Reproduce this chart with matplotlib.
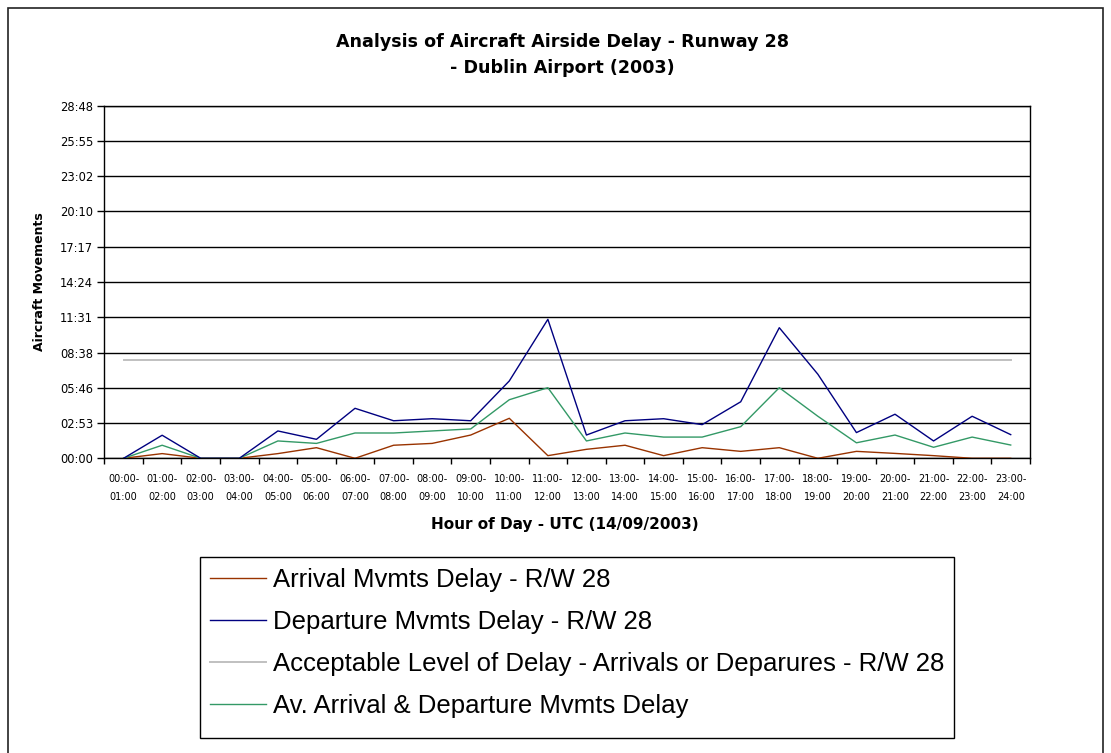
import matplotlib
matplotlib.use("Agg")
import matplotlib.pyplot as plt
from matplotlib.ticker import FixedLocator, FuncFormatter
from matplotlib.lines import Line2D
import matplotlib.patches as mpatches
import numpy as np

# ---------------- data (delays in seconds) ----------------
hours = ["00:00-\n01:00", "01:00-\n02:00", "02:00-\n03:00", "03:00-\n04:00",
         "04:00-\n05:00", "05:00-\n06:00", "06:00-\n07:00", "07:00-\n08:00",
         "08:00-\n09:00", "09:00-\n10:00", "10:00-\n11:00", "11:00-\n12:00",
         "12:00-\n13:00", "13:00-\n14:00", "14:00-\n15:00", "15:00-\n16:00",
         "16:00-\n17:00", "17:00-\n18:00", "18:00-\n19:00", "19:00-\n20:00",
         "20:00-\n21:00", "21:00-\n22:00", "22:00-\n23:00", "23:00-\n24:00"]

arrival = [0, 23, 0, 0, 23, 52, 0, 64, 73, 114, 196, 13,
           44, 64, 13, 52, 34, 52, 0, 34, 24, 13, 0, 0]
departure = [0, 113, 0, 0, 134, 93, 245, 184, 194, 184, 379, 681,
             114, 184, 194, 165, 277, 640, 412, 126, 216, 85, 206, 116]
acceptable = [480] * 24
average = [0, 64, 0, 0, 85, 73, 124, 124, 134, 144, 287, 346,
           85, 124, 104, 104, 155, 346, 206, 76, 114, 54, 104, 65]

series_labels = ["Arrival Mvmts Delay - R/W 28",
                 "Departure Mvmts Delay - R/W 28",
                 "Acceptable Level of Delay - Arrivals or Deparures - R/W 28",
                 "Av. Arrival & Departure Mvmts Delay"]

y_max = 1728.0
y_step = 172.8

# ---------------- figure ----------------
W, H = 1111, 753
fig = plt.figure(figsize=(W / 100, H / 100), dpi=100)
fig.patch.set_facecolor("white")

def fx(px):
    return px / W

def fy(py):
    return 1 - py / H

# outer chart frame
frame = mpatches.Rectangle((fx(8), fy(1100)), fx(1103) - fx(8), fy(8) - fy(1100),
                           transform=fig.transFigure, fill=False,
                           edgecolor="#222222", linewidth=1.2)
fig.patches.append(frame)

ax = fig.add_axes([fx(104.3), fy(458.3), fx(1030) - fx(104.3), fy(105.7) - fy(458.3)])

x = np.arange(len(hours))
colors = {"arr": "#993300", "dep": "#000080", "acc": "#C0C0C0", "avg": "#339966"}

ax.plot(x, acceptable, color=colors["acc"], lw=1.4, zorder=3)
ax.plot(x, arrival, color=colors["arr"], lw=1.0, zorder=4)
ax.plot(x, departure, color=colors["dep"], lw=1.0, zorder=5)
ax.plot(x, average, color=colors["avg"], lw=1.0, zorder=4)

ax.set_xlim(-0.5, len(hours) - 0.5)
ax.set_ylim(0, y_max)

yt = np.arange(0, y_max + 1, y_step)
ax.yaxis.set_major_locator(FixedLocator(yt))

def mmss(v, pos=None):
    s = int(round(v))
    return f"{s // 60:02d}:{s % 60:02d}"

ax.yaxis.set_major_formatter(FuncFormatter(mmss))
ax.grid(axis="y", color="black", lw=1.0, zorder=1)
ax.set_axisbelow(True)

# x ticks at category boundaries, labels at centers
ax.set_xticks(np.arange(-0.5, len(hours), 1.0))
ax.set_xticklabels([])
ax.set_xticks(x, minor=True)
ax.set_xticklabels(hours, minor=True, fontsize=7, linespacing=2.1,
                   family="DejaVu Sans")
ax.tick_params(axis="x", which="minor", length=0, pad=11)
ax.tick_params(axis="x", which="major", length=4, width=1, direction="out")
ax.tick_params(axis="y", length=5, width=1, direction="out", labelsize=8.3, pad=3)

for sp in ax.spines.values():
    sp.set_color("black")
    sp.set_linewidth(1.0)

# title
fig.text(fx(562), fy(55), "Analysis of Aircraft Airside Delay - Runway 28\n- Dublin Airport (2003)",
         ha="center", va="center", fontsize=12.6, fontweight="bold",
         family="DejaVu Sans", linespacing=1.62)

# axis labels
fig.text(fx(40), fy(281.5), "Aircraft Movements", rotation=90, ha="center", va="center",
         fontsize=9, fontweight="heavy", family="DejaVu Sans")
fig.text(fx(565), fy(525), "Hour of Day - UTC (14/09/2003)", ha="center", va="center",
         fontsize=11, fontweight="bold", family="DejaVu Sans")

# legend
leg_box = mpatches.Rectangle((fx(200), fy(737.7)), fx(954) - fx(200), fy(556.7) - fy(737.7),
                             transform=fig.transFigure, fill=False,
                             edgecolor="black", linewidth=1.0)
fig.patches.append(leg_box)

handles = [Line2D([], [], color=colors["arr"], lw=1.0),
           Line2D([], [], color=colors["dep"], lw=1.0),
           Line2D([], [], color=colors["acc"], lw=1.4),
           Line2D([], [], color=colors["avg"], lw=1.0)]
leg = fig.legend(handles, series_labels, loc="upper left",
                 bbox_to_anchor=(fx(202), fy(560)), bbox_transform=fig.transFigure,
                 frameon=False, prop={"family": "Liberation Sans", "size": 18.5},
                 handlelength=2.18, handletextpad=0.27, labelspacing=0.71,
                 borderpad=0.3, borderaxespad=0)

fig.savefig("out.png", dpi=100, facecolor="white")
